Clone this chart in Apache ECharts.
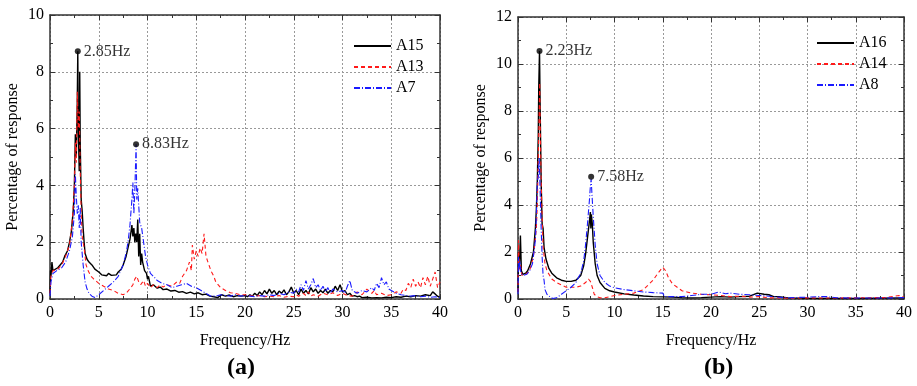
<!DOCTYPE html>
<html><head><meta charset="utf-8">
<script src="https://cdn.jsdelivr.net/npm/echarts@6/dist/echarts.min.js"></script>
<style>html,body{margin:0;padding:0;background:#fff}#c{width:917px;height:386px}</style>
</head><body><div id="c"></div>
<script>
// ---- Data: [frequency (Hz), percentage of response] ----
var A15 = [[0,0.2],[0.05,1.0],[0.1,0.8],[0.2,1.3],[0.3,1.0],[0.5,1.05],[0.8,1.1],[1.0,1.15],[1.3,1.3],[1.5,1.5],[1.8,1.7],[2.0,2.0],[2.2,2.4],[2.4,3.2],[2.5,4.0],[2.6,5.8],[2.7,5.0],[2.8,7.0],[2.85,8.72],[2.9,6.0],[3.0,4.5],[3.05,8.0],[3.1,5.5],[3.2,3.5],[3.3,3.1],[3.4,2.5],[3.5,2.0],[3.6,1.6],[3.8,1.4],[4.0,1.3],[4.3,1.2],[4.6,1.05],[5.0,0.95],[5.3,0.85],[5.5,0.9],[5.8,0.82],[6.0,0.9],[6.3,0.83],[6.5,0.88],[6.8,0.85],[7.0,0.95],[7.3,1.05],[7.5,1.2],[7.8,1.5],[8.0,1.8],[8.2,2.1],[8.4,2.6],[8.5,2.2],[8.6,2.5],[8.7,2.0],[8.8,2.3],[8.9,2.0],[9.0,2.8],[9.1,1.5],[9.2,2.3],[9.3,1.2],[9.4,1.6],[9.5,1.3],[9.7,1.0],[9.9,0.9],[10.0,0.7],[10.1,0.8],[10.3,0.45],[10.6,0.5],[11.0,0.38],[11.3,0.42],[11.6,0.33],[12.0,0.35],[12.4,0.28],[12.8,0.3],[13.2,0.24],[13.6,0.26],[14.0,0.2],[14.4,0.24],[14.8,0.18],[15.2,0.22],[15.6,0.15],[16.0,0.17],[16.4,0.1],[16.8,0.08],[17.2,0.05],[17.6,0.15],[18.0,0.1],[18.4,0.14],[18.8,0.08],[19.2,0.12],[19.6,0.1],[20,0.12],[20.25,0.08],[20.5,0.15],[20.75,0.1],[21,0.2],[21.25,0.12],[21.5,0.25],[21.75,0.15],[22,0.3],[22.25,0.18],[22.5,0.35],[22.75,0.2],[23,0.3],[23.25,0.15],[23.5,0.28],[23.75,0.2],[24,0.32],[24.25,0.15],[24.5,0.25],[24.75,0.42],[25,0.2],[25.25,0.3],[25.5,0.15],[25.75,0.35],[26,0.2],[26.25,0.3],[26.5,0.18],[26.75,0.4],[27,0.25],[27.25,0.35],[27.5,0.2],[27.75,0.3],[28,0.22],[28.25,0.35],[28.5,0.2],[28.75,0.3],[29,0.25],[29.25,0.45],[29.5,0.3],[29.75,0.5],[30,0.25],[30.25,0.3],[30.5,0.15],[30.75,0.2],[31,0.1],[31.25,0.12],[31.5,0.08],[31.75,0.1],[32,0.05],[32.5,0.06],[33,0.04],[33.5,0.05],[34,0.04],[34.5,0.06],[35,0.05],[35.5,0.08],[36,0.06],[36.5,0.1],[37,0.08],[37.5,0.12],[38,0.1],[38.5,0.15],[39,0.12],[39.25,0.25],[39.5,0.18],[39.75,0.1],[40,0.05]];
var A13 = [[0,0.2],[0.1,0.8],[0.3,1.0],[0.8,1.05],[1.2,1.2],[1.6,1.5],[2.0,1.9],[2.3,2.8],[2.5,4.0],[2.6,5.5],[2.7,4.8],[2.8,7.3],[2.9,6.0],[3.0,6.6],[3.1,4.5],[3.2,3.0],[3.3,2.2],[3.5,1.8],[3.7,1.2],[3.9,1.0],[4.2,0.8],[4.5,0.7],[5.0,0.55],[5.5,0.45],[6.0,0.35],[6.5,0.3],[7.0,0.2],[7.5,0.15],[7.8,0.2],[8.0,0.25],[8.3,0.4],[8.5,0.5],[8.7,0.7],[8.9,0.8],[9.1,0.6],[9.3,0.5],[9.6,0.65],[9.8,0.45],[10.0,0.55],[10.3,0.4],[10.6,0.5],[11.0,0.4],[11.3,0.5],[11.6,0.42],[12.0,0.5],[12.5,0.45],[13.0,0.6],[13.3,0.55],[13.6,0.8],[14.0,1.0],[14.3,1.3],[14.5,1.0],[14.6,1.9],[14.8,1.4],[15.0,1.7],[15.2,1.5],[15.4,1.8],[15.6,1.6],[15.8,2.3],[16.0,1.5],[16.2,1.3],[16.5,1.0],[16.8,0.8],[17.0,0.6],[17.5,0.4],[18,0.3],[18.5,0.22],[19,0.2],[19.5,0.15],[20,0.15],[20.5,0.12],[21,0.1],[21.5,0.12],[22,0.08],[22.5,0.1],[23,0.08],[23.5,0.12],[24,0.06],[24.5,0.1],[25,0.08],[25.25,0.15],[25.5,0.1],[26,0.2],[26.25,0.12],[26.5,0.25],[26.75,0.1],[27,0.15],[27.5,0.1],[28,0.2],[28.5,0.15],[29,0.22],[29.5,0.12],[30,0.2],[30.5,0.12],[31,0.1],[31.5,0.25],[32,0.15],[32.5,0.35],[33,0.2],[33.25,0.3],[33.5,0.15],[34,0.2],[34.5,0.12],[35,0.15],[35.5,0.25],[36,0.2],[36.25,0.35],[36.5,0.3],[36.75,0.55],[37,0.4],[37.25,0.7],[37.5,0.45],[37.75,0.6],[38,0.4],[38.25,0.75],[38.5,0.5],[38.75,0.8],[39,0.45],[39.25,0.7],[39.5,0.95],[39.75,0.4],[40,0.6]];
var A7 = [[0,0.1],[0.1,0.6],[0.3,0.9],[0.7,1.0],[1.2,1.1],[1.6,1.3],[2.0,1.7],[2.3,2.2],[2.5,3.0],[2.6,4.4],[2.7,3.6],[2.8,3.0],[2.9,3.3],[3.0,2.5],[3.1,3.2],[3.2,2.0],[3.4,1.2],[3.6,0.6],[3.8,0.35],[4.0,0.2],[4.3,0.1],[4.6,0.05],[5.0,0.15],[5.5,0.3],[6.0,0.45],[6.5,0.6],[7.0,0.8],[7.5,1.2],[7.8,1.6],[8.0,2.0],[8.2,2.6],[8.4,3.5],[8.5,4.1],[8.6,3.0],[8.7,3.8],[8.83,5.45],[8.9,3.5],[9.0,3.9],[9.1,3.3],[9.2,2.7],[9.4,2.5],[9.6,2.0],[9.8,1.5],[10.0,1.2],[10.3,0.9],[10.6,0.8],[11.0,0.65],[11.5,0.55],[12.0,0.5],[12.5,0.4],[13.0,0.45],[13.5,0.5],[14.0,0.55],[14.5,0.45],[15.0,0.4],[15.5,0.3],[16.0,0.2],[16.5,0.1],[17.0,0.1],[17.5,0.15],[18,0.12],[18.5,0.1],[19,0.15],[19.5,0.1],[20,0.12],[20.5,0.1],[21,0.08],[21.5,0.12],[22,0.1],[22.5,0.15],[23,0.12],[23.5,0.2],[24,0.15],[24.5,0.25],[25,0.2],[25.25,0.35],[25.5,0.25],[25.75,0.5],[26,0.3],[26.25,0.65],[26.5,0.35],[26.75,0.5],[27,0.72],[27.25,0.4],[27.5,0.5],[27.75,0.3],[28,0.45],[28.25,0.25],[28.5,0.4],[28.75,0.2],[29,0.35],[29.5,0.25],[30,0.3],[30.25,0.2],[30.5,0.45],[30.75,0.65],[31,0.3],[31.5,0.2],[32,0.3],[32.5,0.25],[33,0.4],[33.25,0.3],[33.5,0.55],[33.75,0.4],[34,0.75],[34.25,0.5],[34.5,0.6],[34.75,0.35],[35,0.3],[35.5,0.2],[36,0.15],[36.5,0.12],[37,0.1],[37.5,0.12],[38,0.08],[38.5,0.1],[39,0.06],[39.5,0.08],[40,0.05]];

var A16 = [[0,0.3],[0.05,2.0],[0.15,1.5],[0.25,2.7],[0.35,1.2],[0.5,1.05],[0.8,1.1],[1.0,1.2],[1.3,1.5],[1.6,2.0],[1.8,3.0],[1.9,3.8],[2.0,5.0],[2.1,7.0],[2.15,9.0],[2.23,10.55],[2.3,8.0],[2.4,5.0],[2.5,3.2],[2.6,3.0],[2.7,2.2],[2.9,1.7],[3.2,1.3],[3.5,1.1],[4.0,0.9],[4.5,0.8],[5.0,0.75],[5.5,0.75],[6.0,0.8],[6.5,1.0],[6.8,1.4],[7.0,1.9],[7.2,2.6],[7.4,3.3],[7.5,3.7],[7.55,3.0],[7.6,3.6],[7.7,3.2],[7.8,2.4],[8.0,1.5],[8.2,1.0],[8.5,0.7],[9.0,0.45],[9.5,0.35],[10,0.3],[11,0.22],[12,0.17],[13,0.13],[14,0.1],[15,0.09],[16,0.08],[17,0.06],[18,0.05],[19,0.06],[20,0.08],[21,0.1],[22,0.08],[23,0.1],[24,0.12],[24.8,0.25],[25,0.18],[25.5,0.2],[26,0.18],[26.5,0.1],[27,0.1],[28,0.05],[30,0.03],[35,0.02],[40,0.05]];
var A14 = [[0,0.3],[0.05,2.5],[0.15,1.2],[0.25,1.5],[0.4,1.0],[0.8,1.05],[1.2,1.2],[1.6,1.8],[1.9,3.0],[2.0,4.0],[2.1,6.0],[2.2,8.0],[2.25,9.2],[2.3,7.5],[2.4,5.0],[2.5,3.5],[2.6,2.2],[2.8,1.5],[3.0,1.2],[3.5,0.85],[4.0,0.7],[4.5,0.6],[5.0,0.5],[5.5,0.5],[6.0,0.5],[6.5,0.55],[7.0,0.7],[7.3,0.85],[7.5,0.75],[7.7,0.5],[7.9,0.2],[8.2,0.1],[8.5,0.05],[9,0.05],[10,0.15],[11,0.2],[12,0.25],[13,0.4],[13.5,0.6],[14,0.8],[14.5,1.1],[15,1.35],[15.3,1.2],[15.6,0.9],[16,0.65],[16.5,0.5],[17,0.35],[17.5,0.3],[18,0.25],[19,0.2],[20,0.18],[21,0.15],[22,0.1],[23,0.12],[24,0.08],[25,0.1],[26,0.05],[27,0.05],[28,0.03],[30,0.05],[32,0.04],[35,0.05],[38,0.06],[39.5,0.15],[40,0.08]];
var A8 = [[0,0.2],[0.05,1.8],[0.1,1.2],[0.2,1.6],[0.3,1.1],[0.5,1.0],[0.9,1.05],[1.2,1.2],[1.5,1.5],[1.8,2.5],[1.9,3.5],[2.0,5.0],[2.1,5.2],[2.2,6.0],[2.3,4.5],[2.4,3.0],[2.5,1.8],[2.6,1.0],[2.7,0.8],[2.8,0.4],[3.0,0.2],[3.3,0.1],[3.6,0.02],[4.0,0.05],[4.5,0.2],[5.0,0.35],[5.5,0.5],[6.0,0.7],[6.5,1.1],[6.8,1.6],[7.0,2.3],[7.2,3.2],[7.4,4.2],[7.5,4.8],[7.58,5.1],[7.7,4.2],[7.8,3.5],[8.0,2.3],[8.2,1.5],[8.5,1.0],[9,0.7],[9.5,0.55],[10,0.48],[11,0.4],[12,0.35],[13,0.3],[14,0.27],[15,0.25],[15.2,0.1],[16,0.1],[17,0.1],[18,0.15],[19,0.2],[20,0.2],[20.8,0.3],[21.5,0.22],[22,0.25],[23,0.2],[24,0.18],[25,0.15],[26,0.12],[27,0.08],[28,0.05],[30,0.08],[31,0.1],[32,0.1],[33,0.05],[35,0.04],[38,0.04],[40,0.06]];

var peaksA = [[2.85,8.72],[8.83,5.45]];
var peakLabelsA = ['2.85Hz','8.83Hz'];
var peaksB = [[2.23,10.55],[7.58,5.2]];
var peakLabelsB = ['2.23Hz','7.58Hz'];
var xTicks = {min:0, max:40, interval:5};
var yTicksA = {min:0, max:10, interval:2};
var yTicksB = {min:0, max:12, interval:2};
var panelLabels = ['(a)','(b)'];

// ---- Styling ----
var FONT = 'Liberation Serif';
var FS = 16;
var AX = '#333';
function xAx(g, pos, lbl, name){
  return {gridIndex:g, type:'value', position:pos, min:xTicks.min, max:xTicks.max, interval:xTicks.interval,
    name: name||'', nameLocation:'middle', nameGap:34, nameTextStyle:{fontFamily:FONT,fontSize:FS,color:'#000'},
    axisLine:{show:true,onZero:false,lineStyle:{color:AX,width:1.5}},
    axisTick:{show:true,inside:true,length:5,lineStyle:{color:AX}},
    minorTick:{show:true,splitNumber:2,length:3,lineStyle:{color:AX}},
    axisLabel:{show:lbl,fontFamily:FONT,fontSize:FS,color:'#000',margin:6},
    splitLine:{show:lbl,lineStyle:{color:'#999',type:[2,2],width:1}}};
}
function yAx(g, pos, lbl, t, name){
  return {gridIndex:g, type:'value', position:pos, min:t.min, max:t.max, interval:t.interval,
    name: name||'', nameLocation:'middle', nameGap:29, nameTextStyle:{fontFamily:FONT,fontSize:FS,color:'#000'},
    axisLine:{show:true,onZero:false,lineStyle:{color:AX,width:1.5}},
    axisTick:{show:true,inside:true,length:5,lineStyle:{color:AX}},
    minorTick:{show:true,splitNumber:2,length:3,lineStyle:{color:AX}},
    axisLabel:{show:lbl,fontFamily:FONT,fontSize:FS,color:'#000',margin:6},
    splitLine:{show:lbl,lineStyle:{color:'#999',type:[2,2],width:1}}};
}
function line(name, data, xi, yi, color, type, w){
  return {name:name, type:'line', xAxisIndex:xi, yAxisIndex:yi, data:data, symbol:'none', silent:true,
    lineStyle:{color:color, width:w, type:type}, itemStyle:{color:color}, animation:false};
}
function peaks(data, labels, xi, yi){
  return {type:'scatter', xAxisIndex:xi, yAxisIndex:yi, symbolSize:6, itemStyle:{color:'#000'}, silent:true, animation:false,
    data:data.map(function(p,i){return {value:p, label:{show:true, position:'right', distance:3, formatter:labels[i],
      fontFamily:FONT, fontSize:FS, color:'#000'}};}), z:5};
}
var legStyle = {orient:'vertical', itemWidth:37, itemHeight:12, itemGap:5, itemStyle:{opacity:0},
  textStyle:{fontFamily:FONT,fontSize:FS,color:'#000',lineHeight:16}, selectedMode:false};

var chart = echarts.init(document.getElementById('c'), null, {renderer:'canvas'});
chart.setOption({
  backgroundColor:'#fff',
  animation:false,
  grid:[{left:50, right:477, top:15, bottom:87},{left:518, right:13, top:17, bottom:87}],
  xAxis:[xAx(0,'bottom',true,'Frequency/Hz'), xAx(0,'top',false), xAx(1,'bottom',true,'Frequency/Hz'), xAx(1,'top',false)],
  yAxis:[yAx(0,'left',true,yTicksA,'Percentage of response'), yAx(0,'right',false,yTicksA), yAx(1,'left',true,yTicksB,'Percentage of response'), yAx(1,'right',false,yTicksB)],
  legend:[Object.assign({data:['A15','A13','A7'], left:348, top:33}, legStyle), Object.assign({data:['A16','A14','A8'], left:811, top:30}, legStyle)],
  series:[
    line('A15', A15, 0, 0, '#000', 'solid', 1.4),
    line('A13', A13, 0, 0, '#ff1a1a', [4,3], 1.1),
    line('A7', A7, 0, 0, '#1a1aff', [6,2,1,2], 1.1),
    peaks(peaksA, peakLabelsA, 0, 0),
    line('A16', A16, 2, 2, '#000', 'solid', 1.4),
    line('A14', A14, 2, 2, '#ff1a1a', [4,3], 1.1),
    line('A8', A8, 2, 2, '#1a1aff', [6,2,1,2], 1.1),
    peaks(peaksB, peakLabelsB, 2, 2)
  ],
  graphic:[
    {type:'text', left:227, top:356, style:{text:panelLabels[0], font:'bold 24px "Liberation Serif"', fill:'#000'}},
    {type:'text', left:704, top:356, style:{text:panelLabels[1], font:'bold 24px "Liberation Serif"', fill:'#000'}}
  ]
});
</script></body></html>
